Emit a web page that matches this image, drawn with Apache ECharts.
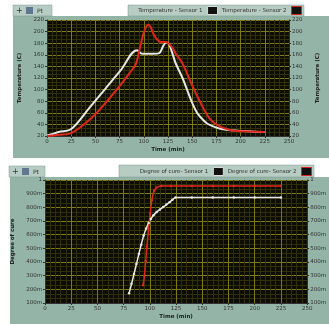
<!DOCTYPE html>
<html><head><meta charset="utf-8">
<script src="https://cdn.jsdelivr.net/npm/echarts@6/dist/echarts.min.js"></script>
<style>html,body{margin:0;padding:0;background:#fff}#c{width:329px;height:324px}</style>
</head><body><div id="c"></div>
<script>
// ---- data ----
const xTicks = [0,25,50,75,100,125,150,175,200,225,250];
const tempTicks = [20,40,60,80,100,120,140,160,180,200,220];
const cureTicks = [0.1,0.2,0.3,0.4,0.5,0.6,0.7,0.8,0.9,1];

const tempTime1 = [0,5,12,25,44,60,76,93,98,105,110,116,120,123,126,130,133,140,146,150,155,160,165,171,178,190,203,215,225];
const tempVal1  = [21,23,27,32,69,101,133,168,162,162,162,163,175,181,178,160,145,120,94,77,60,50,42,37,33,30,28.5,27.5,27];
const tempTime2 = [0,5,12,25,44,60,76,86,92,95,98,101,104.5,107,110,114,118,122,126,130,133,140,149,159,168,178,190,203,225];
const tempVal2  = [20,21,22,25,48,76,108,130,145,165,186,203,212,208,196,186,182,182,179,171,162,145,111,76,50,37,30,28,27];

const cureTime1 = [80.2,82.5,84.9,87.2,89.5,91.8,94.1,96.5,98.8,101,103.4,106.5,109.6,112.7,115.7,118.8,121.5,124.4,140,160,180,200,225];
const cureVal1  = [0.171,0.24,0.312,0.385,0.459,0.527,0.594,0.645,0.685,0.715,0.742,0.765,0.784,0.802,0.82,0.838,0.855,0.872,0.872,0.872,0.872,0.872,0.872];
const cureTime2 = [93.5,94.8,96,97.2,98.8,100.3,101.9,104,106.5,111,120,140,160,180,200,225];
const cureVal2  = [0.23,0.30,0.405,0.513,0.644,0.754,0.852,0.921,0.945,0.956,0.956,0.956,0.956,0.956,0.956,0.956];

const zip = (a,b) => a.map((v,i)=>[v,b[i]]);
const chart = echarts.init(document.getElementById('c'), null, {renderer:'canvas'});
const FONT = 'DejaVu Sans';
const lab = {fontSize:5.5, color:'#333', fontFamily:FONT};
const PANEL = '#93b4a6', TAB = '#b7ccc3', PLOT = '#0c0c03';
const MAJ = '#7b7b12', MIN = '#303008';

function xAx(gi){
  return {gridIndex:gi, type:'value', min:0, max:250, interval:25,
    name:'Time (min)', nameLocation:'middle', nameGap:11,
    nameTextStyle:{fontSize:5.5, color:'#222', fontWeight:'bold', fontFamily:FONT},
    axisLine:{show:true, lineStyle:{color:'#333'}}, axisTick:{show:true,length:2,lineStyle:{color:'#333'}},
    axisLabel:{...lab, margin:3},
    splitLine:{show:true, lineStyle:{color:MAJ, width:1}},
    minorTick:{show:false, splitNumber:5},
    minorSplitLine:{show:true, lineStyle:{color:MIN, width:1}}};
}
function yAx(gi, pos, min, max, interval, name, fmt, gap){
  return {gridIndex:gi, type:'value', position:pos, min:min, max:max, interval:interval,
    name:name, nameLocation:'middle', nameGap:gap, nameRotate:90,
    nameTextStyle:{fontSize:5.5, color:'#222', fontWeight:'bold', fontFamily:FONT},
    axisLine:{show:true, lineStyle:{color:'#333'}}, axisTick:{show:true,length:2,lineStyle:{color:'#333'}},
    axisLabel:{...lab, margin:3, formatter:fmt},
    splitLine:{show: pos==='left', lineStyle:{color:MAJ, width:1}},
    minorTick:{show:false, splitNumber:3},
    minorSplitLine:{show: pos==='left', lineStyle:{color:MIN, width:1}}};
}
const cureFmt = v => (Math.abs(v-1)<1e-6 ? '1' : Math.round(v*1000)+'m');

function toolbar(x,y,w,h){
  return {type:'group', children:[
    {type:'rect', shape:{x:x,y:y,width:w,height:h}, style:{fill:TAB, stroke:'#7d9a8d', lineWidth:0.5}},
    {type:'text', style:{x:x+3,y:y+2,text:'+',fontSize:8,fill:'#333',fontFamily:FONT}},
    {type:'rect', shape:{x:x+13,y:y+2,width:7,height:h-4}, style:{fill:'#5e7890'}},
    {type:'text', style:{x:x+24,y:y+3,text:'Pt',fontSize:6,fill:'#333',fontFamily:FONT}}
  ]};
}

chart.setOption({
  animation:false,
  backgroundColor:'#ffffff',
  graphic:[
    {type:'rect', z:-10, shape:{x:13,y:16,width:316,height:142}, style:{fill:PANEL}},
    {type:'rect', z:-10, shape:{x:10,y:177,width:319,height:147}, style:{fill:PANEL}},
    {type:'rect', z:-9, shape:{x:128,y:5,width:176,height:11}, style:{fill:TAB, stroke:'#7d9a8d', lineWidth:0.5}},
    {type:'rect', z:-9, shape:{x:119,y:165,width:195,height:12}, style:{fill:TAB, stroke:'#7d9a8d', lineWidth:0.5}},
    toolbar(13,5,39,11),
    toolbar(9,166,36,11)
  ],
  grid:[
    {left:47, right:20, top:20, height:116, show:true, backgroundColor:PLOT, borderWidth:0},
    {left:45, right:14, top:180, height:123, show:true, backgroundColor:PLOT, borderWidth:0}
  ],
  legend:[
    {right:27, top:6, itemWidth:10, itemHeight:8, itemGap:4, align:'right', padding:0,
     textStyle:{fontSize:5.5, color:'#333', fontFamily:FONT},
     data:[{name:'Temperature - Sensor 1', icon:'rect', itemStyle:{color:'#111', borderColor:'#ddd', borderWidth:1}},
           {name:'Temperature - Sensor 2', icon:'rect', itemStyle:{color:'#111', borderColor:'#d22', borderWidth:1}}]},
    {right:17, top:167, itemWidth:10, itemHeight:8, itemGap:4, align:'right', padding:0,
     textStyle:{fontSize:5.5, color:'#333', fontFamily:FONT},
     data:[{name:'Degree of cure- Sensor 1', icon:'rect', itemStyle:{color:'#111', borderColor:'#ddd', borderWidth:1}},
           {name:'Degree of cure- Sensor 2', icon:'rect', itemStyle:{color:'#111', borderColor:'#d22', borderWidth:1}}]}
  ],
  xAxis:[xAx(0), xAx(1)],
  yAxis:[
    yAx(0,'left',20,220,20,'Temperature (C)',undefined,15),
    yAx(0,'right',20,220,20,'Temperature (C)',undefined,26),
    yAx(1,'left',0.1,1,0.1,'Degree of cure',cureFmt,15),
    yAx(1,'right',0.1,1,0.1,'',cureFmt,20)
  ],
  series:[
    {name:'Temperature - Sensor 1', type:'line', xAxisIndex:0, yAxisIndex:0, data:zip(tempTime1,tempVal1),
     smooth:0.35, showSymbol:false, lineStyle:{color:'#e6e6e6', width:2}, itemStyle:{color:'#e6e6e6'}},
    {name:'Temperature - Sensor 2', type:'line', xAxisIndex:0, yAxisIndex:0, data:zip(tempTime2,tempVal2),
     smooth:0.35, showSymbol:false, lineStyle:{color:'#e0261c', width:2}, itemStyle:{color:'#e0261c'}},
    {name:'Degree of cure- Sensor 1', type:'line', xAxisIndex:1, yAxisIndex:2, data:zip(cureTime1,cureVal1),
     smooth:0.3, showSymbol:true, symbol:'circle', symbolSize:2.5, lineStyle:{color:'#e6e6e6', width:1.5}, itemStyle:{color:'#e6e6e6'}},
    {name:'Degree of cure- Sensor 2', type:'line', xAxisIndex:1, yAxisIndex:2, data:zip(cureTime2,cureVal2),
     smooth:0.3, showSymbol:true, symbol:'circle', symbolSize:2.5, lineStyle:{color:'#e0261c', width:1.5}, itemStyle:{color:'#e0261c'}}
  ]
});
</script></body></html>
